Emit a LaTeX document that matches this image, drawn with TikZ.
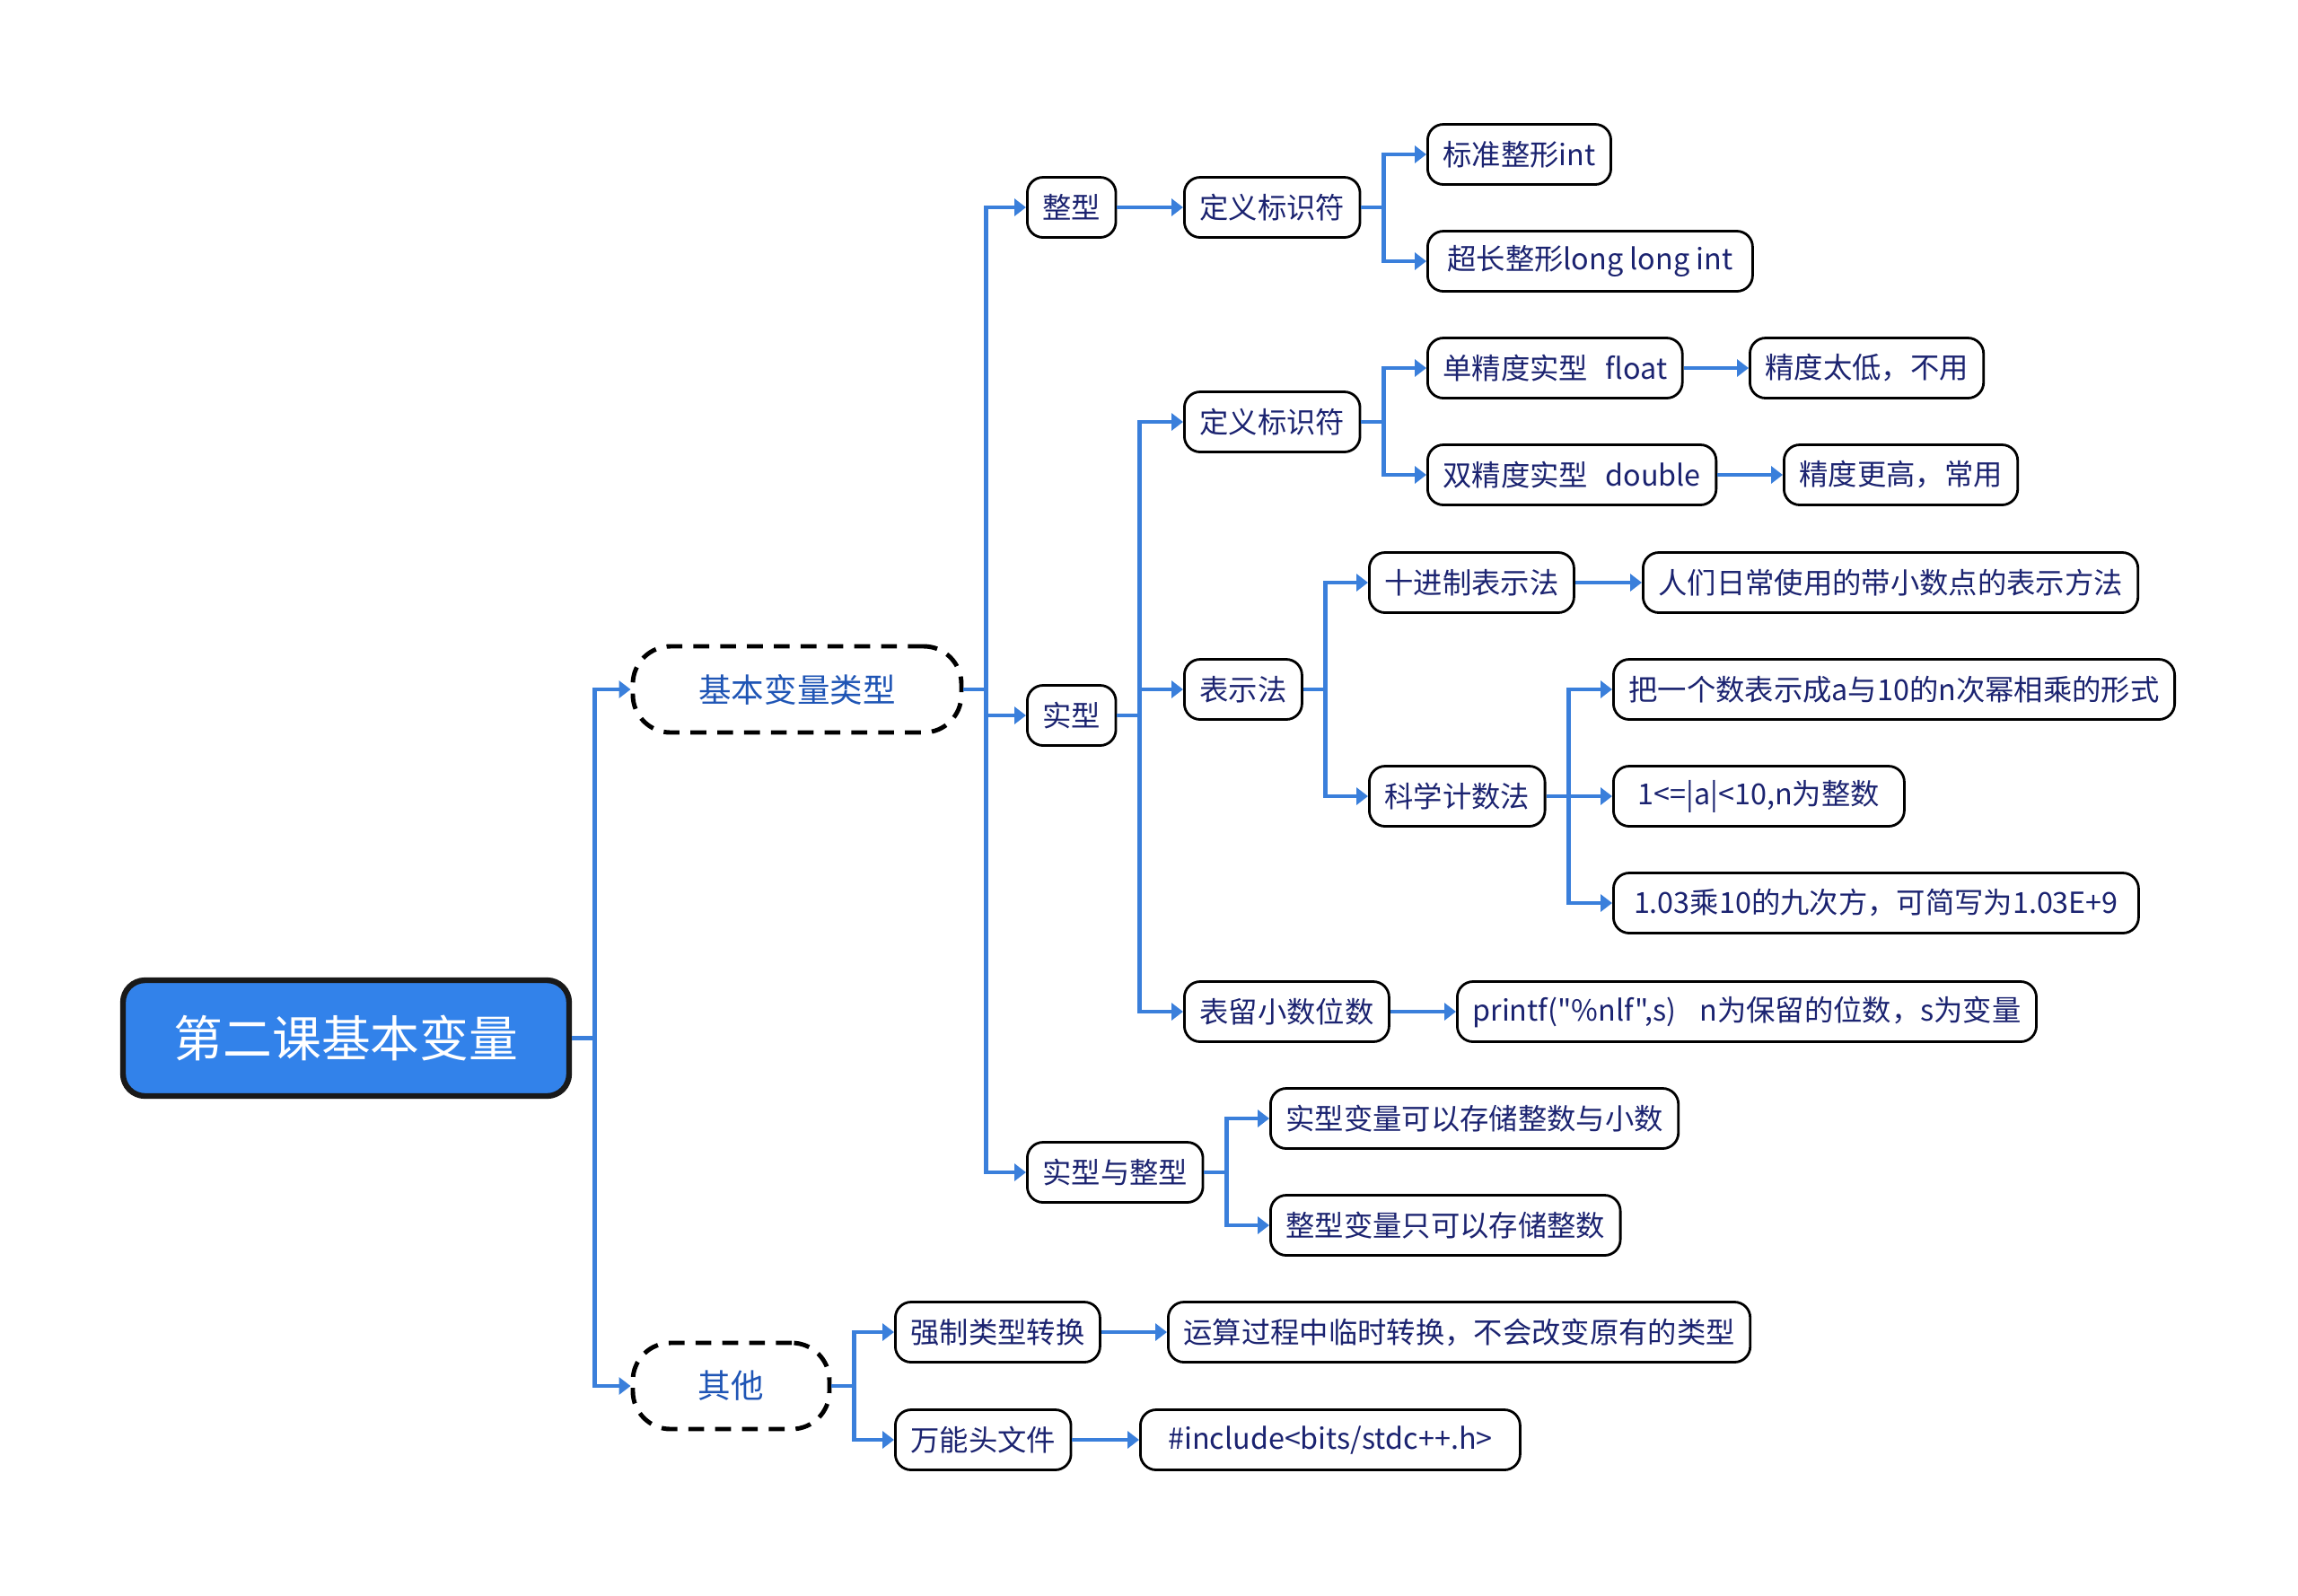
\documentclass[tikz,border=0pt]{standalone}
\usepackage{fontspec}
\setmainfont{Noto Sans CJK SC}[Ligatures=TeXOff]
\usetikzlibrary{arrows.meta,positioning}
\definecolor{linkblue}{HTML}{3A7FDB}
\definecolor{rootblue}{HTML}{3282EA}
\definecolor{leafink}{HTML}{1B2370}
\definecolor{topicink}{HTML}{1F55B5}

\begin{document}
\begin{tikzpicture}[
  mainbox/.style={draw=black!90, fill=rootblue, line width=1.8pt, rounded corners=7pt,
    text=white, font=\fontsize{15.6}{18}\selectfont, minimum width=4.97cm, minimum height=1.29cm},
  topic/.style={draw, dash pattern=on 5pt off 3.5pt, line width=1.4pt, rounded corners=0.42cm,
    text=topicink, font=\fontsize{10.4}{12}\selectfont, minimum height=0.96cm},
  leaf/.style={draw, line width=0.8pt, rounded corners=5pt, anchor=west, text=leafink,
    font=\fontsize{9.2}{11}\selectfont, minimum height=0.67cm, inner xsep=0.17cm},
  conn/.style={draw=linkblue, line width=1.4pt, -{Triangle[length=0.13cm,width=0.19cm]}}
]
\def \gap {0.25} % elbow distance after a node
\useasboundingbox (0,0) rectangle (25.6,-17.77);

\node[mainbox] (main) at (3.855,-11.565) {第二课基本变量};
\node[topic, minimum width=3.66cm] (jb) at (8.88,-7.68) {基本变量类型};
\node[topic, minimum width=2.19cm] (qt) at (8.145,-15.44) {其他};

% 整型
\node[leaf] (zx) at (11.43,-2.31) {整型};
\node[leaf] (dy1) at (13.18,-2.31) {定义标识符};
\node[leaf] (zint) at (15.89,-1.72) {标准整形int};
\node[leaf, minimum width=3.62cm] (zll) at (15.89,-2.91) {超长整形long long int};

% 实型
\node[leaf] (sx) at (11.43,-7.97) {实型};
\node[leaf] (dy2) at (13.18,-4.70) {定义标识符};
\node[leaf] (flt) at (15.89,-4.10) {单精度实型\hspace{0.6em}float};
\node[leaf] (flt2) at (19.48,-4.10) {精度太低，不用};
\node[leaf] (dbl) at (15.89,-5.29) {双精度实型\hspace{0.6em}double};
\node[leaf] (dbl2) at (19.86,-5.29) {精度更高，常用};
\node[leaf] (bsf) at (13.18,-7.68) {表示法};
\node[leaf] (sj) at (15.24,-6.49) {十进制表示法};
\node[leaf] (sj2) at (18.29,-6.49) {人们日常使用的带小数点的表示方法};
\node[leaf] (kx) at (15.24,-8.87) {科学计数法};
\node[leaf] (kx1) at (17.96,-7.68) {把一个数表示成a与10的n次幂相乘的形式};
\node[leaf, minimum width=3.24cm] (kx2) at (17.96,-8.87) {1<=|a|<10,n为整数};
\node[leaf, minimum width=5.85cm] (kx3) at (17.96,-10.06) {1.03乘10的九次方，可简写为1.03E+9};
\node[leaf] (bl) at (13.18,-11.27) {表留小数位数};
\node[leaf] (bl2) at (16.22,-11.27) {printf("\%nlf",s)\hspace{0.8em}n为保留的位数，s为变量};

% 实型与整型
\node[leaf] (sz) at (11.43,-13.06) {实型与整型};
\node[leaf] (sz1) at (14.14,-12.46) {实型变量可以存储整数与小数};
\node[leaf] (sz2) at (14.14,-13.65) {整型变量只可以存储整数};

% 其他
\node[leaf] (qz) at (9.96,-14.84) {强制类型转换};
\node[leaf] (qz2) at (13.00,-14.84) {运算过程中临时转换，不会改变原有的类型};
\node[leaf] (wn) at (9.96,-16.04) {万能头文件};
\node[leaf, minimum width=4.23cm] (wn2) at (12.69,-16.04) {\#include<bits/stdc++.h>};

\foreach \a/\b in {main/jb, main/qt, jb/zx, jb/sx, jb/sz, zx/dy1, dy1/zint, dy1/zll,
    sx/dy2, sx/bsf, sx/bl, dy2/flt, dy2/dbl, flt/flt2, dbl/dbl2, bsf/sj, bsf/kx, sj/sj2,
    kx/kx1, kx/kx2, kx/kx3, bl/bl2, sz/sz1, sz/sz2, qt/qz, qt/wn, qz/qz2, wn/wn2}
  \draw[conn] (\a.east) -- ++(\gap,0) |- (\b.west);
\end{tikzpicture}
\end{document}
